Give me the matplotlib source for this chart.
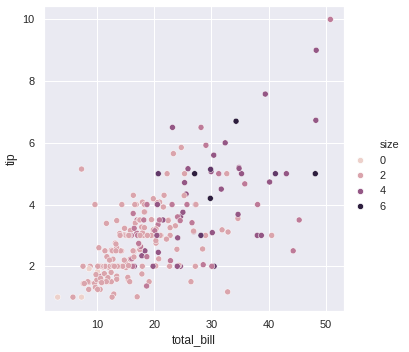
import matplotlib
matplotlib.use("Agg")
import matplotlib.pyplot as plt
from matplotlib.lines import Line2D
from matplotlib.colors import Normalize
import seaborn as sns
import pandas as pd

total_bill = [16.99,10.34,21.01,23.68,24.59,25.29,8.77,26.88,15.04,14.78,10.27,35.26,15.42,18.43,14.83,21.58,10.33,16.29,16.97,20.65,
17.92,20.29,15.77,39.42,19.82,17.81,13.37,12.69,21.7,19.65,9.55,18.35,15.06,20.69,17.78,24.06,16.31,16.93,18.69,31.27,
16.04,17.46,13.94,9.68,30.4,18.29,22.23,32.4,28.55,18.04,12.54,10.29,34.81,9.94,25.56,19.49,38.01,26.41,11.24,48.27,
20.29,13.81,11.02,18.29,17.59,20.08,16.45,3.07,20.23,15.01,12.02,17.07,26.86,25.28,14.73,10.51,17.92,27.2,22.76,17.29,
19.44,16.66,10.07,32.68,15.98,34.83,13.03,18.28,24.71,21.16,28.97,22.49,5.75,16.32,22.75,40.17,27.28,12.03,21.01,12.46,
11.35,15.38,44.3,22.42,20.92,15.36,20.49,25.21,18.24,14.31,14.0,7.25,38.07,23.95,25.71,17.31,29.93,10.65,12.43,24.08,
11.69,13.42,14.26,15.95,12.48,29.8,8.52,14.52,11.38,22.82,19.08,20.27,11.17,12.26,18.26,8.51,10.33,14.15,16.0,13.16,
17.47,34.3,41.19,27.05,16.43,8.35,18.64,11.87,9.78,7.51,14.07,13.13,17.26,24.55,19.77,29.85,48.17,25.0,13.39,16.49,
21.5,12.66,16.21,13.81,17.51,24.52,20.76,31.71,10.59,10.63,50.81,15.81,7.25,31.85,16.82,32.9,17.89,14.48,9.6,34.63,
34.65,23.33,45.35,23.17,40.55,20.69,20.9,30.46,18.15,23.1,15.69,19.81,28.44,15.48,16.58,7.56,10.34,43.11,13.0,13.51,
18.71,12.74,13.0,16.4,20.53,16.47,26.59,38.73,24.27,12.76,30.06,25.89,48.33,13.27,28.17,12.9,28.15,11.59,7.74,30.14,
12.16,13.42,8.58,15.98,13.42,16.27,10.09,20.45,13.28,22.12,24.01,15.69,11.61,10.77,15.53,10.07,12.6,32.83,35.83,29.03,
27.18,22.67,17.82,18.78]

tip = [1.01,1.66,3.5,3.31,3.61,4.71,2.0,3.12,1.96,3.23,1.71,5.0,1.57,3.0,3.02,3.92,1.67,3.71,3.5,3.35,
4.08,2.75,2.23,7.58,3.18,2.34,2.0,2.0,4.3,3.0,1.45,2.5,3.0,2.45,3.27,3.6,2.0,3.07,2.31,5.0,
2.24,2.54,3.06,1.32,5.6,3.0,5.0,6.0,2.05,3.0,2.5,2.6,5.2,1.56,4.34,3.51,3.0,1.5,1.76,6.73,
3.21,2.0,1.98,3.76,2.64,3.15,2.47,1.0,2.01,2.09,1.97,3.0,3.14,5.0,2.2,1.25,3.08,4.0,3.0,2.71,
3.0,3.4,1.83,5.0,2.03,5.17,2.0,4.0,5.85,3.0,3.0,3.5,1.0,4.3,3.25,4.73,4.0,1.5,3.0,1.5,
2.5,3.0,2.5,3.48,4.08,1.64,4.06,4.29,3.76,4.0,3.0,1.0,4.0,2.55,4.0,3.5,5.07,1.5,1.8,2.92,
2.31,1.68,2.5,2.0,2.52,4.2,1.48,2.0,2.0,2.18,1.5,2.83,1.5,2.0,3.25,1.25,2.0,2.0,2.0,2.75,
3.5,6.7,5.0,5.0,2.3,1.5,1.36,1.63,1.73,2.0,2.5,2.0,2.74,2.0,2.0,5.14,5.0,3.75,2.61,2.0,
3.5,2.5,2.0,2.0,3.0,3.48,2.24,4.5,1.61,2.0,10.0,3.16,5.15,3.18,4.0,3.11,2.0,2.0,4.0,3.55,
3.68,5.65,3.5,6.5,3.0,5.0,3.5,2.0,3.5,4.0,1.5,4.19,2.56,2.02,4.0,1.44,2.0,5.0,2.0,2.0,
4.0,2.01,2.0,2.5,4.0,3.23,3.41,3.0,2.03,2.23,2.0,5.16,9.0,2.5,6.5,1.1,3.0,1.5,1.44,3.09,
2.2,3.48,1.92,3.0,1.58,2.5,2.0,3.0,2.72,2.88,2.0,3.0,3.39,1.47,3.0,1.25,1.0,1.17,4.67,5.92,
2.0,2.0,1.75,3.0]

size = [2,3,3,2,4,4,2,4,2,2,2,4,2,4,2,2,3,3,3,3,
2,2,2,4,2,4,2,2,2,2,2,4,2,4,2,3,3,3,3,3,
3,2,2,2,4,2,2,4,3,2,2,2,4,2,4,2,4,2,2,4,
2,2,2,4,3,3,2,1,2,2,2,3,2,2,2,2,2,4,2,2,
2,2,1,2,2,4,2,2,2,2,2,2,2,2,2,4,2,2,2,2,
2,2,3,2,2,2,2,2,2,2,2,1,3,2,3,2,4,2,2,4,
2,2,2,2,2,6,2,2,2,3,2,2,2,2,2,2,2,2,2,2,
2,6,5,6,2,2,3,2,2,2,2,2,3,4,4,5,6,4,2,4,
4,2,3,2,2,3,2,4,2,2,3,2,2,2,2,2,2,2,2,2,
4,2,3,4,2,5,3,5,3,3,2,2,2,2,2,2,2,4,2,2,
3,2,2,2,4,3,3,4,2,2,3,4,4,2,3,2,5,2,2,4,
2,2,1,3,2,2,2,4,2,2,4,3,2,2,2,2,2,2,3,3,
2,2,2,2]

legend_title = "size"
legend_levels = [0, 2, 4, 6]

df = pd.DataFrame({"total_bill": total_bill, "tip": tip, "size": size})

sns.set_theme()
plt.rcParams["font.family"] = ["Liberation Sans", "DejaVu Sans"]
fig = plt.figure(figsize=(409/72, 352/72), dpi=72)
ax = fig.add_axes([44/409, 1-311/352, 300/409, 305.5/352])
cmap = sns.cubehelix_palette(as_cmap=True)
norm = Normalize(min(size), max(size))
sns.scatterplot(data=df, x="total_bill", y="tip", hue="size", palette=cmap,
                hue_norm=norm, legend=False, ax=ax)

handles = [Line2D([], [], linestyle="", marker="", color="none")]
handles += [Line2D([], [], linestyle="", marker="o", markersize=6.3,
                   markerfacecolor=cmap(norm(v)), markeredgecolor="white",
                   markeredgewidth=0.75) for v in legend_levels]
labels = [legend_title] + [str(v) for v in legend_levels]
fig.legend(handles, labels, loc="center left", bbox_to_anchor=(339/409, 0.5),
           frameon=False)
fig.savefig("out.png", dpi=72)
